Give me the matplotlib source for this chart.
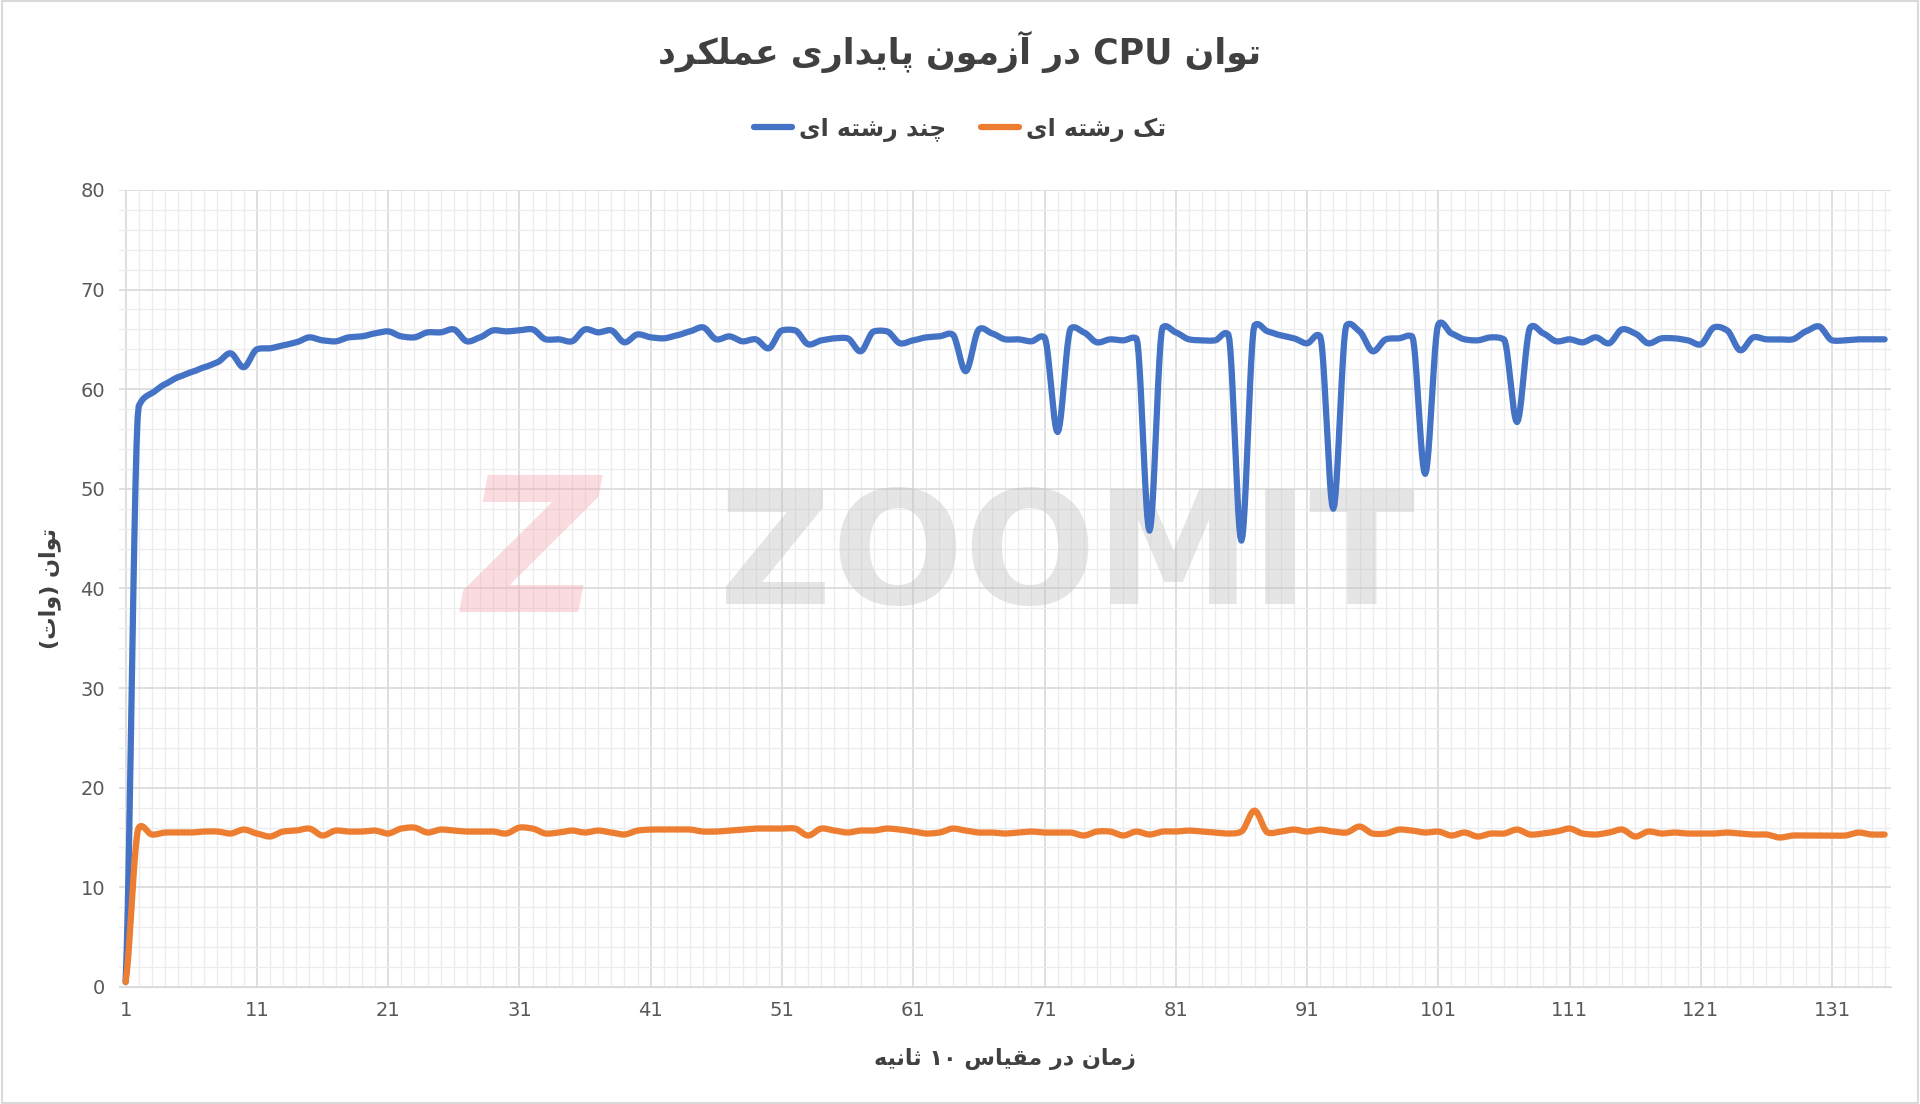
import numpy as np
import matplotlib
matplotlib.use("Agg")
import matplotlib.pyplot as plt
from matplotlib.ticker import MultipleLocator

# ---------------- data ----------------
x_values = list(range(1, 136))
multi_thread = [
    0.5, 58.3, 59.6, 60.5, 61.2, 61.7, 62.2, 62.7, 63.6, 62.2,
    64.0, 64.1, 64.4, 64.7, 65.2, 64.9, 64.8, 65.2, 65.3, 65.6,
    65.8, 65.3, 65.2, 65.7, 65.7, 66.0, 64.8, 65.2, 65.9, 65.8,
    65.9, 66.0, 65.0, 65.0, 64.8, 66.0, 65.7, 65.9, 64.7, 65.5,
    65.2, 65.1, 65.4, 65.8, 66.2, 65.0, 65.3, 64.8, 65.0, 64.1,
    65.9, 65.9, 64.5, 64.9, 65.1, 65.1, 63.8, 65.8, 65.8, 64.6,
    64.9, 65.2, 65.3, 65.5, 61.8, 66.0, 65.6, 65.0, 65.0, 64.8,
    65.2, 55.7, 66.1, 65.7, 64.7, 65.0, 64.9, 65.1, 45.8, 66.2,
    65.7, 65.0, 64.9, 64.9, 65.5, 44.8, 66.4, 65.8, 65.4, 65.1,
    64.6, 65.3, 48.0, 66.4, 65.8, 63.8, 65.0, 65.1, 65.3, 51.5,
    66.5, 65.6, 65.0, 64.9, 65.2, 65.0, 56.7, 66.2, 65.6, 64.8,
    65.0, 64.7, 65.2, 64.6, 66.0, 65.6, 64.6, 65.1, 65.1, 64.9,
    64.5, 66.2, 65.9, 63.9, 65.2, 65.0, 65.0, 65.0, 65.8, 66.3,
    64.9, 64.9, 65.0, 65.0, 65.0,
]
single_thread = [
    0.5, 16.0, 15.3, 15.5, 15.5, 15.5, 15.6, 15.6, 15.4, 15.8,
    15.4, 15.1, 15.6, 15.7, 15.9, 15.2, 15.7, 15.6, 15.6, 15.7,
    15.4, 15.9, 16.0, 15.5, 15.8, 15.7, 15.6, 15.6, 15.6, 15.4,
    16.0, 15.9, 15.4, 15.5, 15.7, 15.5, 15.7, 15.5, 15.3, 15.7,
    15.8, 15.8, 15.8, 15.8, 15.6, 15.6, 15.7, 15.8, 15.9, 15.9,
    15.9, 15.9, 15.2, 15.9, 15.7, 15.5, 15.7, 15.7, 15.9, 15.8,
    15.6, 15.4, 15.5, 15.9, 15.7, 15.5, 15.5, 15.4, 15.5, 15.6,
    15.5, 15.5, 15.5, 15.2, 15.6, 15.6, 15.2, 15.6, 15.3, 15.6,
    15.6, 15.7, 15.6, 15.5, 15.4, 15.6, 17.7, 15.5, 15.6, 15.8,
    15.6, 15.8, 15.6, 15.5, 16.1, 15.4, 15.4, 15.8, 15.7, 15.5,
    15.6, 15.2, 15.5, 15.1, 15.4, 15.4, 15.8, 15.3, 15.4, 15.6,
    15.9, 15.4, 15.3, 15.5, 15.8, 15.1, 15.6, 15.4, 15.5, 15.4,
    15.4, 15.4, 15.5, 15.4, 15.3, 15.3, 15.0, 15.2, 15.2, 15.2,
    15.2, 15.2, 15.5, 15.3, 15.3,
]
x_tick_labels = [str(v) for v in range(1, 136, 10)]

title_text = "توان CPU در آزمون پایداری عملکرد"
legend_multi = "چند رشته ای"
legend_single = "تک رشته ای"
ylabel_text = "توان (وات)"
xlabel_text = "زمان در مقیاس ۱۰ ثانیه"

# ---------------- simple Persian shaper ----------------
FORMS = {  # iso, fin, ini, med
    'ا': ('\uFE8D', '\uFE8E', None, None), 'آ': ('\uFE81', '\uFE82', None, None),
    'د': ('\uFEA9', '\uFEAA', None, None), 'ر': ('\uFEAD', '\uFEAE', None, None),
    'ز': ('\uFEAF', '\uFEB0', None, None), 'و': ('\uFEED', '\uFEEE', None, None),
    'پ': ('\uFB56', '\uFB57', '\uFB58', '\uFB59'), 'ت': ('\uFE95', '\uFE96', '\uFE97', '\uFE98'),
    'ث': ('\uFE99', '\uFE9A', '\uFE9B', '\uFE9C'), 'چ': ('\uFB7A', '\uFB7B', '\uFB7C', '\uFB7D'),
    'س': ('\uFEB1', '\uFEB2', '\uFEB3', '\uFEB4'), 'ش': ('\uFEB5', '\uFEB6', '\uFEB7', '\uFEB8'),
    'ع': ('\uFEC9', '\uFECA', '\uFECB', '\uFECC'), 'ق': ('\uFED5', '\uFED6', '\uFED7', '\uFED8'),
    'ک': ('\uFB8E', '\uFB8F', '\uFB90', '\uFB91'), 'ل': ('\uFEDD', '\uFEDE', '\uFEDF', '\uFEE0'),
    'م': ('\uFEE1', '\uFEE2', '\uFEE3', '\uFEE4'), 'ن': ('\uFEE5', '\uFEE6', '\uFEE7', '\uFEE8'),
    'ه': ('\uFEE9', '\uFEEA', '\uFEEB', '\uFEEC'), 'ی': ('\uFBFC', '\uFBFD', '\uFBFE', '\uFBFF'),
}


def shape(s):
    out = []
    for i, c in enumerate(s):
        if c not in FORMS:
            out.append(c)
            continue
        prev = s[i - 1] if i > 0 else ''
        nxt = s[i + 1] if i + 1 < len(s) else ''
        jp = prev in FORMS and FORMS[prev][2] is not None
        jn = FORMS[c][2] is not None and nxt in FORMS
        f = FORMS[c]
        if jp and jn:
            out.append(f[3])
        elif jp:
            out.append(f[1])
        elif jn:
            out.append(f[2])
        else:
            out.append(f[0])
    r = ''.join(out)[::-1]
    res, run = [], []
    for ch in r:
        if ch.isascii() and ch.isalnum() or ch in '۰۱۲۳۴۵۶۷۸۹':
            run.append(ch)
        else:
            if run:
                res.append(''.join(run[::-1])); run = []
            res.append({'(': ')', ')': '('}.get(ch, ch))
    if run:
        res.append(''.join(run[::-1]))
    return ''.join(res)


def smooth(xs, ys, n=12, k=0.35):
    """Cardinal spline through the points (drawing only), tangents limited."""
    xs = np.asarray(xs, float); ys = np.asarray(ys, float)
    sec = np.diff(ys)
    m = np.zeros_like(ys)
    m[1:-1] = k * (ys[2:] - ys[:-2])
    m[0] = sec[0] * 0.5; m[-1] = sec[-1] * 0.5
    for i in range(1, len(ys) - 1):
        lim = 2.0 * min(abs(sec[i - 1]), abs(sec[i])) + 0.3
        m[i] = np.clip(m[i], -lim, lim)
    t = np.linspace(0, 1, n, endpoint=False)
    h00 = 2 * t ** 3 - 3 * t ** 2 + 1; h10 = t ** 3 - 2 * t ** 2 + t
    h01 = -2 * t ** 3 + 3 * t ** 2; h11 = t ** 3 - t ** 2
    ox, oy = [], []
    for i in range(len(ys) - 1):
        ox.extend(xs[i] + t * (xs[i + 1] - xs[i]))
        oy.extend(h00 * ys[i] + h10 * m[i] + h01 * ys[i + 1] + h11 * m[i + 1])
    ox.append(xs[-1]); oy.append(ys[-1])
    return np.array(ox), np.array(oy)


plt.rcParams['font.family'] = ['DejaVu Sans']
fig = plt.figure(figsize=(19.2, 11.04), dpi=100)
ax = fig.add_axes([0.062, 0.106, 0.923, 0.722])

blue = '#4472C4'
orange = '#ED7D31'
sx, sy = smooth(x_values, multi_thread)
ax.plot(sx, sy, color=blue, lw=4.5, solid_capstyle='round', label=shape(legend_multi), zorder=3)
sx, sy = smooth(x_values, single_thread)
ax.plot(sx, sy, color=orange, lw=4.5, solid_capstyle='round', label=shape(legend_single), zorder=3)

ax.set_xlim(0.5, 135.5)
ax.set_ylim(0, 80)
ax.set_xticks(list(range(1, 136, 10)))
ax.set_xticklabels(x_tick_labels)
ax.xaxis.set_minor_locator(MultipleLocator(1))
ax.yaxis.set_major_locator(MultipleLocator(10))
ax.yaxis.set_minor_locator(MultipleLocator(2))
ax.grid(which='major', color='#d9d9d9', lw=1.2)
ax.grid(which='minor', color='#ececec', lw=0.9)
ax.set_axisbelow(True)
for s in ax.spines.values():
    s.set_visible(False)
ax.spines['bottom'].set_visible(True)
ax.spines['bottom'].set_color('#d9d9d9')
ax.tick_params(which='both', length=0, labelsize=14, colors='#595959', pad=10)

# watermark
ax.text(0.233, 0.535, 'Z', transform=ax.transAxes, fontsize=135, fontweight='bold', style='italic',
        color='#f4a7b0', alpha=0.4, ha='center', va='center', zorder=1)
ax.text(0.535, 0.535, 'ZOOMIT', transform=ax.transAxes, fontsize=112, fontweight='bold', color='#bfbfbf',
        alpha=0.4, ha='center', va='center', zorder=1)

fig.text(0.5, 0.953, shape(title_text), ha='center', va='center', fontsize=25, fontweight='bold', color='#404040')
ax.set_xlabel(shape(xlabel_text), fontsize=16, fontweight='bold', color='#404040', labelpad=20)
ax.set_ylabel(shape(ylabel_text), fontsize=16, fontweight='bold', color='#404040', labelpad=14)

leg = fig.legend(loc='center', bbox_to_anchor=(0.5, 0.883), ncol=2, frameon=False,
                 prop={'size': 17, 'weight': 'bold'}, handlelength=1.6, columnspacing=1.5, handletextpad=0.3)
for t in leg.get_texts():
    t.set_color('#404040')

fig.patches.append(plt.Rectangle((0.001, 0.001), 0.998, 0.998, transform=fig.transFigure,
                                 fill=False, edgecolor='#d9d9d9', lw=1.5))
fig.savefig('out.png', dpi=100)
